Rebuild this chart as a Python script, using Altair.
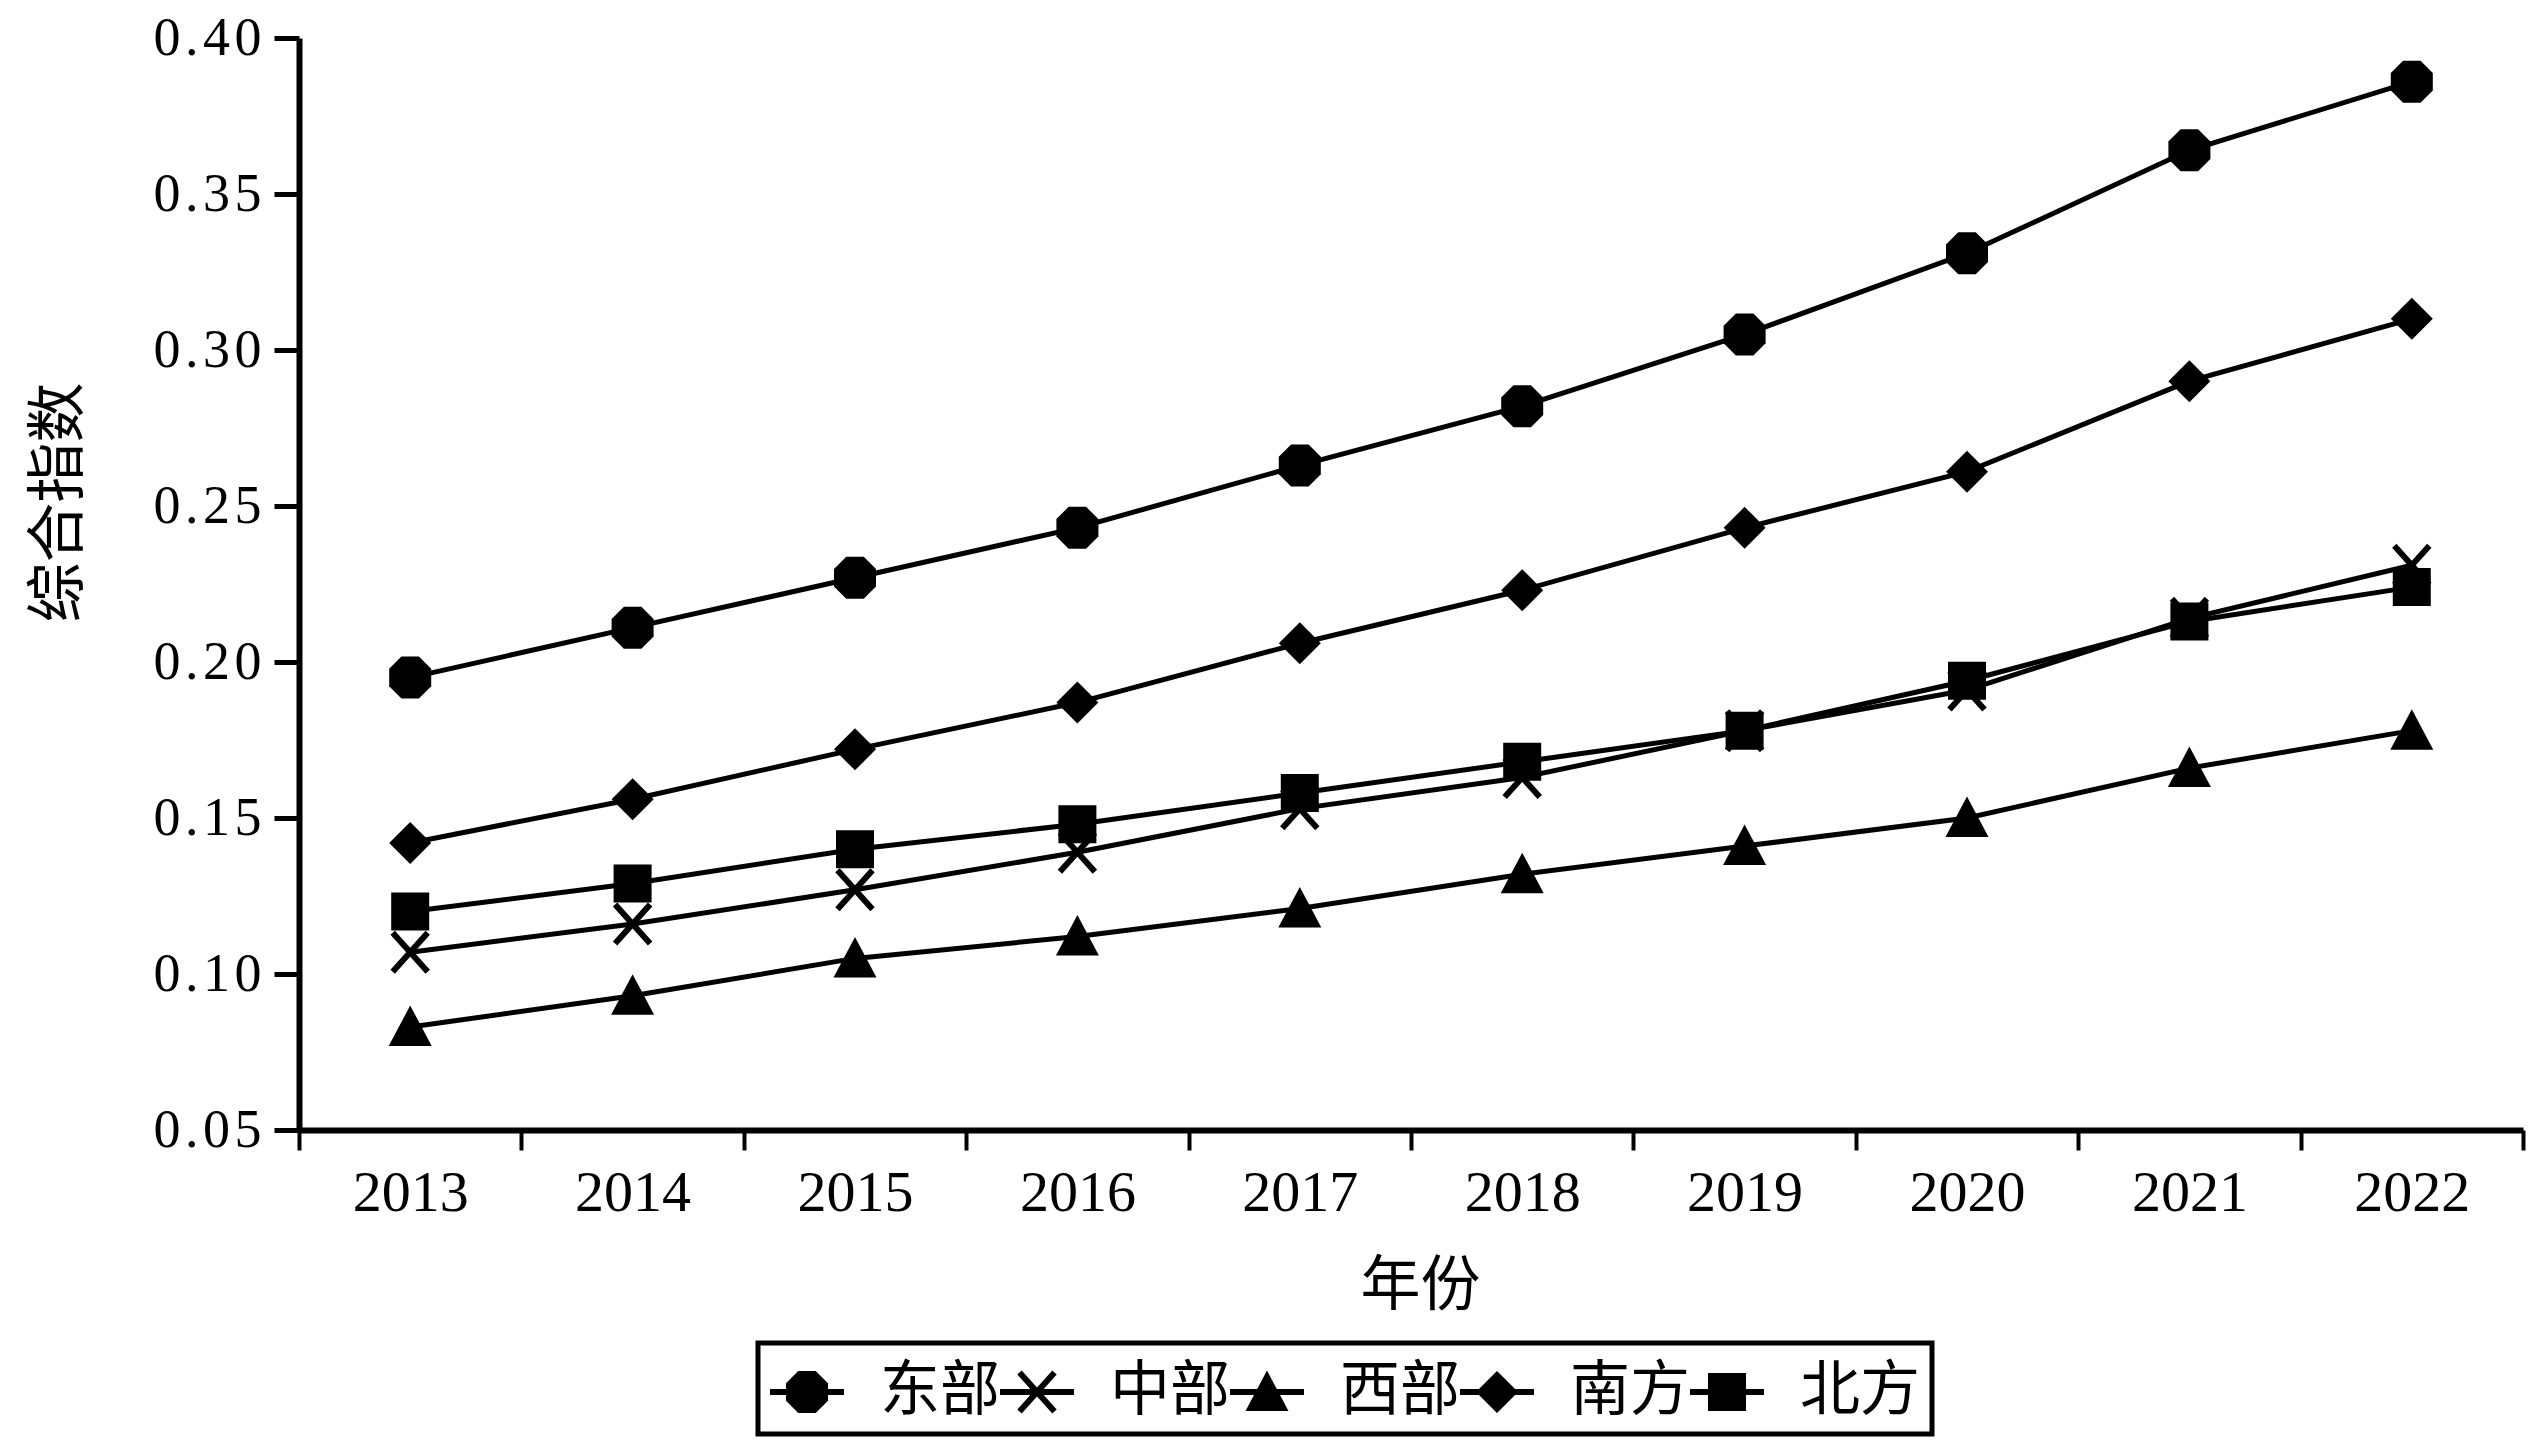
import math
import altair as alt
import pandas as pd

# ---------------- data ----------------
years = [2013, 2014, 2015, 2016, 2017, 2018, 2019, 2020, 2021, 2022]
series_names = ["东部", "中部", "西部", "南方", "北方"]
east = [0.195, 0.211, 0.227, 0.243, 0.263, 0.282, 0.305, 0.331, 0.364, 0.386]
central = [0.107, 0.116, 0.127, 0.139, 0.153, 0.163, 0.178, 0.191, 0.214, 0.231]
west = [0.083, 0.093, 0.105, 0.112, 0.121, 0.132, 0.141, 0.150, 0.166, 0.178]
south = [0.142, 0.156, 0.172, 0.187, 0.206, 0.223, 0.243, 0.261, 0.290, 0.310]
north = [0.120, 0.129, 0.140, 0.148, 0.158, 0.168, 0.178, 0.194, 0.213, 0.224]
y_ticks = [0.05, 0.10, 0.15, 0.20, 0.25, 0.30, 0.35, 0.40]
x_title = "年份"
y_title = "综合指数"

series_values = [east, central, west, south, north]
rows = []
for name, vals in zip(series_names, series_values):
    for yr, v in zip(years, vals):
        rows.append({"year": yr, "value": v, "series": name})
df = pd.DataFrame(rows)

# ---------------- marker shapes (style only) ----------------
def orient(pts):
    a = sum(pts[i][0] * pts[(i + 1) % len(pts)][1] - pts[(i + 1) % len(pts)][0] * pts[i][1]
            for i in range(len(pts)))
    return pts if a > 0 else list(reversed(pts))

def poly(pts, k=1.0, dx=0.0):
    pts = orient(pts)
    return "M" + "L".join(f"{x*k+dx:.3f},{y*k:.3f}" for x, y in pts) + "Z"

def bar(p1, p2, h):
    dx, dy = p2[0] - p1[0], p2[1] - p1[1]
    L = math.hypot(dx, dy)
    nx, ny = -dy / L * h, dx / L * h
    return [(p1[0] + nx, p1[1] + ny), (p2[0] + nx, p2[1] + ny),
            (p2[0] - nx, p2[1] - ny), (p1[0] - nx, p1[1] - ny)]

octagon = [(-0.35, -0.84), (0.35, -0.84), (0.84, -0.35), (0.84, 0.35),
           (0.35, 0.84), (-0.35, 0.84), (-0.84, 0.35), (-0.84, -0.35)]
x_bar1 = bar((-0.70, -0.78), (0.70, 0.78), 0.12)
x_bar2 = bar((-0.70, 0.78), (0.70, -0.78), 0.12)
triangle = [(0.0, -0.86), (0.86, 0.76), (-0.86, 0.76)]
diamond = [(0.0, -0.84), (0.84, 0.0), (0.0, 0.84), (-0.84, 0.0)]
square = [(-0.76, -0.76), (0.76, -0.76), (0.76, 0.76), (-0.76, 0.76)]

UNIT = 25          # px per shape unit on the plot
SYM = 74           # legend symbol box (px)
plot_shapes = [poly(octagon), poly(x_bar1) + poly(x_bar2), poly(triangle),
               poly(diamond), poly(square)]
k = UNIT / (SYM / 2)
lh = 3 / (SYM / 2)
leg_line = poly([(-1, -lh), (1, -lh), (1, lh), (-1, lh)])
legend_shapes = [leg_line + poly(octagon, k),
                 leg_line + poly(x_bar1, k) + poly(x_bar2, k),
                 leg_line + poly(triangle, k),
                 leg_line + poly(diamond, k),
                 leg_line + poly(square, k)]

# ---------------- layout ----------------
TOP = 30
W, H = 2224, 1122 - TOP
band = W / len(years)
x_ticks = [y - 0.5 for y in years] + [years[-1] + 0.5]
plot_top_page = 8 + TOP

x_scale = alt.Scale(domain=[years[0] - 0.5, years[-1] + 0.5], nice=False, zero=False)
y_scale = alt.Scale(domain=[y_ticks[0], y_ticks[-1]], nice=False, zero=False)

x_axis = alt.Axis(
    values=x_ticks,
    labelExpr=f"datum.value < {years[-1]} ? format(datum.value + 0.5, 'd') : ''",
    labelOffset=band / 2,
    labelFlush=False, labelOverlap=False, labelBound=False,
    labelFont="Liberation Serif", labelFontSize=58, labelColor="black",
    labelPadding=14, labelBaseline="top",
    tickSize=20, tickWidth=4, tickColor="black",
    domainWidth=6, domainColor="black", grid=False,
    title=x_title, titleFont="Noto Sans CJK SC", titleFontSize=60,
    titleFontWeight="normal", titleColor="black",
    titleX=1121, titleY=174, titleAlign="center", titleBaseline="alphabetic",
)
y_axis = alt.Axis(
    values=y_ticks,
    labelExpr="join(split(format(datum.value, '.2f'), ''), '\u200a')",
    labelFlush=False, labelOverlap=False, labelBound=False,
    labelFont="Liberation Serif", labelFontSize=54, labelColor="black",
    labelPadding=13,
    tickSize=25, tickWidth=5, tickColor="black",
    domainWidth=6, domainColor="black", grid=False,
    title=y_title, titleFont="Noto Sans CJK SC", titleFontSize=60,
    titleFontWeight="normal", titleColor="black",
    titleX=-222, titleY=502 - plot_top_page, titleAngle=270, titleAlign="center",
    titleBaseline="alphabetic",
)

base = alt.Chart(df)

lines = base.mark_line(color="black", strokeWidth=5).encode(
    x=alt.X("year:Q", scale=x_scale, axis=x_axis),
    y=alt.Y("value:Q", scale=y_scale, axis=y_axis),
    detail="series:N",
)

points = base.mark_point(filled=True, color="black", opacity=1,
                         size=(2 * UNIT) ** 2).encode(
    x=alt.X("year:Q", scale=x_scale),
    y=alt.Y("value:Q", scale=y_scale),
    shape=alt.Shape("series:N", scale=alt.Scale(domain=series_names, range=plot_shapes),
                    legend=None),
)

legend_layer = base.transform_filter(alt.datum.value < 0).mark_point(
    filled=True, color="black", opacity=1, size=SYM ** 2
).encode(
    x=alt.X("year:Q", scale=x_scale),
    y=alt.Y("value:Q", scale=y_scale),
    shape=alt.Shape(
        "series:N",
        scale=alt.Scale(domain=series_names, range=legend_shapes),
        legend=alt.Legend(
            title=None, orient="none", legendX=459, legendY=1343 - plot_top_page,
            direction="horizontal", columns=5,
            labelFont="Noto Sans CJK SC", labelFontSize=60, labelColor="black",
            labelOffset=36, columnPadding=-7, padding=12, labelLimit=0,
            symbolSize=SYM ** 2, symbolStrokeWidth=0,
            symbolFillColor="black", symbolOpacity=1,
        ),
    ),
)

chart = alt.layer(lines, points, legend_layer).resolve_scale(
    shape="independent"
).properties(
    width=W, height=H,
    autosize=alt.AutoSizeParams(type="none"),
    padding={"left": 291, "top": TOP, "right": 4, "bottom": 1438 - TOP - H},
    background="white",
).configure_view(stroke=None).configure_legend(
    strokeColor="black", strokeWidth=5
)

chart.save("out.html", embed_options={"renderer": "svg", "actions": False})
